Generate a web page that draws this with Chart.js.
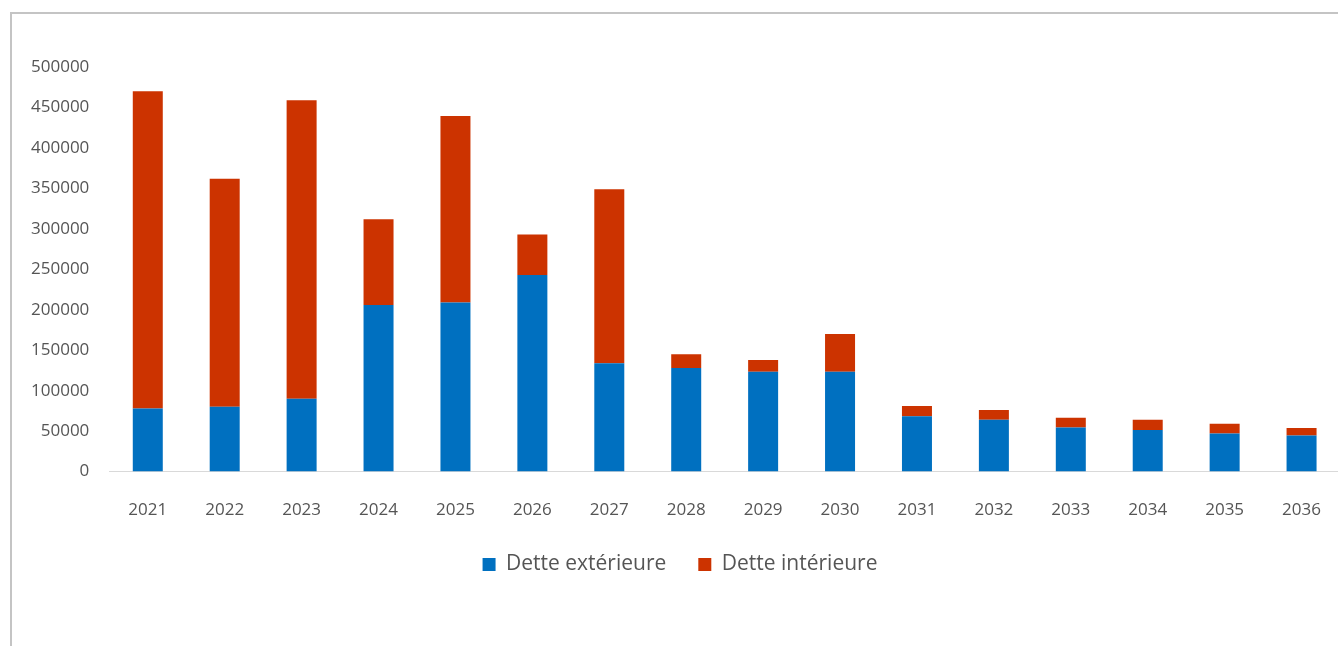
<!DOCTYPE html>
<html>
<head>
<meta charset="utf-8">
<script src="https://cdn.jsdelivr.net/npm/chart.js@4"></script>
<style>
  body { margin: 0; background: #fff; overflow: hidden; }
  #cadre { position: absolute; left: 10px; top: 12px; width: 1340px; height: 650px; border: 2px solid #c4c4c4; }
  #boite { position: absolute; left: 0; top: 0; width: 1349px; height: 646px; }
</style>
</head>
<body>
<div id="cadre"></div>
<div id="boite"><canvas id="chart"></canvas></div>
<script>
// Données
const annees = ['2021', '2022', '2023', '2024', '2025', '2026', '2027', '2028',
                '2029', '2030', '2031', '2032', '2033', '2034', '2035', '2036'];
const detteExterieure = [78000, 80000, 90000, 206000, 209000, 243000, 134000, 128000,
                         123500, 123500, 68500, 64000, 54500, 51500, 47000, 44500];
const detteInterieure = [392000, 282000, 369000, 106000, 230500, 50000, 215000, 17000,
                         14500, 46500, 12500, 12000, 12000, 12500, 12000, 9500];

const ctx = document.getElementById('chart').getContext('2d');
Chart.defaults.font.family = '"Open Sans", sans-serif';
Chart.defaults.color = '#555555';

new Chart(ctx, {
    type: 'bar',
    data: {
        labels: annees,
        datasets: [
            {
                label: 'Dette extérieure',
                data: detteExterieure,
                backgroundColor: '#0070c0',
                barPercentage: 0.39,
                categoryPercentage: 1
            },
            {
                label: 'Dette intérieure',
                data: detteInterieure,
                backgroundColor: '#cc3300',
                barPercentage: 0.39,
                categoryPercentage: 1
            }
        ]
    },
    options: {
        responsive: true,
        maintainAspectRatio: false,
        animation: false,
        layout: { padding: { left: 11, right: 0, top: 67, bottom: 61 } },
        plugins: {
            tooltip: { enabled: false },
            legend: {
                position: 'bottom',
                labels: {
                    boxWidth: 13,
                    boxHeight: 13,
                    padding: 32,
                    font: { size: 21 },
                    color: '#555555'
                }
            }
        },
        scales: {
            x: {
                stacked: true,
                grid: { display: false, drawTicks: false },
                border: { display: true, color: '#d9d9d9', width: 1 },
                ticks: { padding: 28, font: { size: 17 } },
                // l'axe est raccourci pour rapprocher la légende
                afterFit: (scale) => { scale.height -= 26; }
            },
            y: {
                stacked: true,
                min: 0,
                max: 500000,
                grid: { display: false, drawTicks: false },
                border: { display: false },
                ticks: {
                    stepSize: 50000,
                    padding: 20,
                    font: { size: 17 },
                    callback: (v) => String(v)
                }
            }
        }
    }
});
</script>
</body>
</html>
